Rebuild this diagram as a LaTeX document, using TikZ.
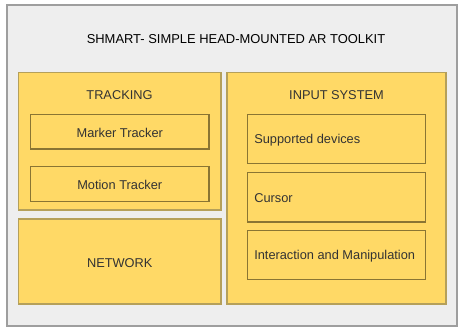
\documentclass[tikz,border=0pt]{standalone}
\usepackage{fontspec}
\setmainfont{Liberation Sans}
\begin{document}
\definecolor{panelfill}{HTML}{EEEEEE}
\definecolor{panelline}{HTML}{9E9E9E}
\definecolor{boxfill}{HTML}{FFD966}
\definecolor{boxline}{HTML}{B5A05A}
\definecolor{innerline}{HTML}{8A7533}
\definecolor{labeltext}{HTML}{333333}
\begin{tikzpicture}[x=0.75pt,y=-0.75pt,
  panel/.style={draw=panelline,fill=panelfill,line width=0.9pt},
  group/.style={draw=boxline,fill=boxfill,line width=0.9pt},
  item/.style={draw=innerline,fill=boxfill,line width=0.9pt},
  lbl/.style={text=labeltext,font=\fontsize{9.6}{11}\selectfont,inner sep=0pt,yshift=-1pt}]
\useasboundingbox (0,0) rectangle (464,334);
% outer panel
\draw[panel] (7,5) rectangle (457,326);
\node[font=\fontsize{9.7}{11}\selectfont,inner sep=0pt,yshift=-1pt] (title) at (236,38) {SHMART- SIMPLE HEAD-MOUNTED AR TOOLKIT};
% tracking group
\draw[group] (18.5,72.5) rectangle (221,210);
\node[lbl] (tracking) at (119.5,94) {TRACKING};
\draw[item] (30.5,114.5) rectangle (209,149) node[midway,lbl] (marker) {Marker Tracker};
\draw[item] (30.5,166.5) rectangle (209,201.5) node[midway,lbl] (motion) {Motion Tracker};
% network group
\draw[group] (18.5,219) rectangle (221,304) node[midway,lbl] (network) {NETWORK};
% input system group
\draw[group] (227,72.5) rectangle (446,304);
\node[lbl] (input) at (336.5,94) {INPUT SYSTEM};
\draw[item] (247.5,114.5) rectangle (425.5,163.5);
\node[lbl,anchor=west] (devices) at (254,139) {Supported devices};
\draw[item] (247.5,172.5) rectangle (425.5,222);
\node[lbl,anchor=west] (cursor) at (254,197) {Cursor};
\draw[item] (247.5,230.5) rectangle (425.5,279.5);
\node[lbl,anchor=west] (interaction) at (254,255) {Interaction and Manipulation};
\end{tikzpicture}
\end{document}
